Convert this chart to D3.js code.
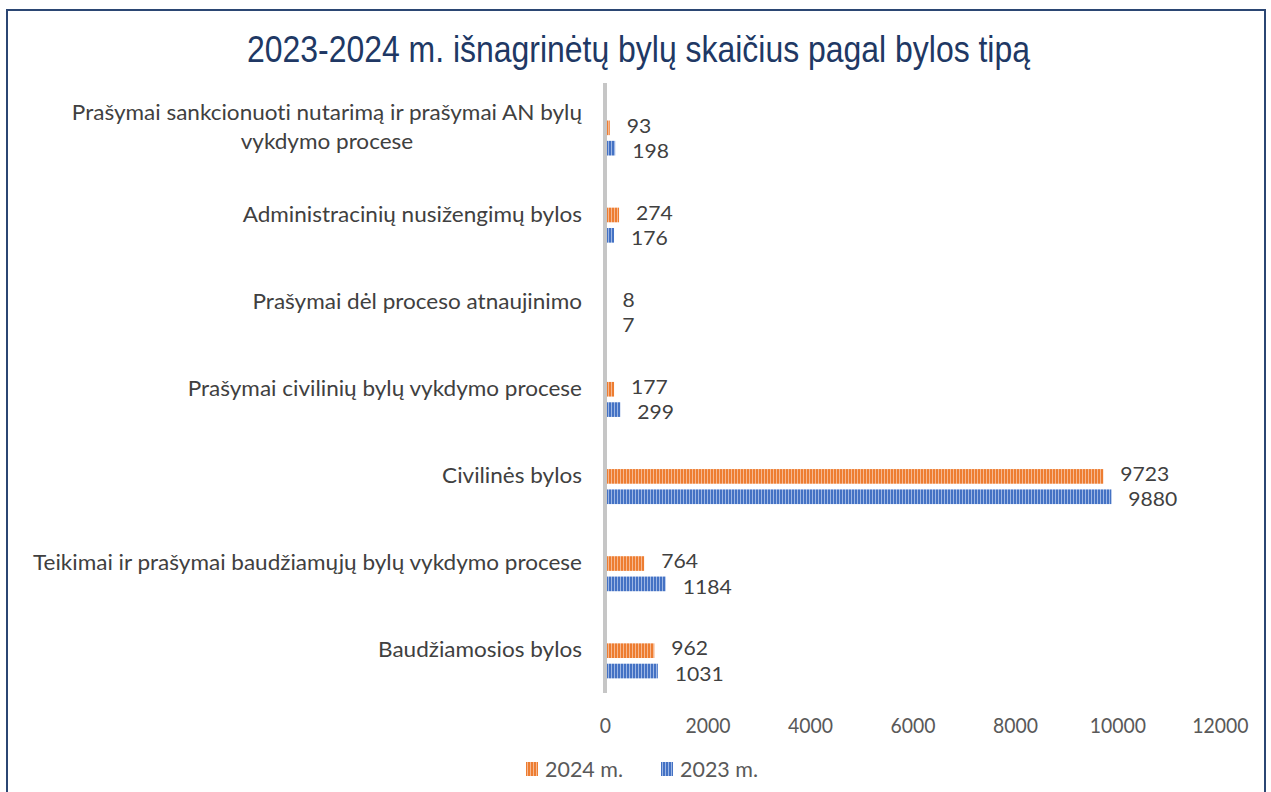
<!DOCTYPE html>
<html><head><meta charset="utf-8">
<script src="https://cdn.jsdelivr.net/npm/d3@7"></script>
<style>html,body{margin:0;padding:0;background:#fff;} svg{display:block} text{font-variant-ligatures:none;font-feature-settings:"liga" 0,"clig" 0;}</style>
</head><body>
<svg id="chart" width="1271" height="792"></svg>
<script>
const title = "2023-2024 m. išnagrinėtų bylų skaičius pagal bylos tipą";
const categories = [
  "Prašymai sankcionuoti nutarimą ir prašymai AN bylų vykdymo procese",
  "Administracinių nusižengimų bylos",
  "Prašymai dėl proceso atnaujinimo",
  "Prašymai civilinių bylų vykdymo procese",
  "Civilinės bylos",
  "Teikimai ir prašymai baudžiamųjų bylų vykdymo procese",
  "Baudžiamosios bylos"
];
const seriesNames = ["2024 m.", "2023 m."];
const values2024 = [93, 274, 8, 177, 9723, 764, 962];
const values2023 = [198, 176, 7, 299, 9880, 1184, 1031];
const xTicks = [0, 2000, 4000, 6000, 8000, 10000, 12000];
const xMax = 12000;

const seriesValues = [values2024, values2023];
const colors = ["#ED7D31", "#4472C4"];
const lightColors = ["#F6B891", "#9DB6E4"];
const FONT = "Lato, 'Open Sans', sans-serif";

const svg = d3.select("#chart");
const defs = svg.append("defs");
seriesNames.forEach((s, i) => {
  const p = defs.append("pattern").attr("id", "pat" + i)
    .attr("patternUnits", "userSpaceOnUse").attr("width", 3).attr("height", 3);
  p.append("rect").attr("width", 3).attr("height", 3).attr("fill", colors[i]);
  p.append("rect").attr("x", 2).attr("width", 1).attr("height", 3).attr("fill", lightColors[i]);
});

// border
svg.append("rect").attr("x", 7).attr("y", 10).attr("width", 1258).attr("height", 800)
  .attr("fill", "#fff").attr("stroke", "#2B4673").attr("stroke-width", 2);

const x = d3.scaleLinear().domain([0, xMax]).range([605, 1220]);
const y = d3.scaleBand().domain(categories).range([83, 693]).padding(0);
const yInner = d3.scaleBand().domain(seriesNames).range([37.5, 72.5]).paddingInner(0.28);

function measure(txt, size, family, weight) {
  const t = svg.append("text").attr("font-family", family).attr("font-size", size)
    .attr("font-weight", weight || "normal").text(txt);
  const w = t.node().getComputedTextLength();
  t.remove();
  return w;
}
function squeeze(sel, ratio) {
  sel.each(function () {
    const w = this.getComputedTextLength();
    d3.select(this).attr("textLength", w * ratio).attr("lengthAdjust", "spacingAndGlyphs");
  });
}

// title
const titleSize = 36;
const titleRatio = 783 / measure(title, titleSize, "'Liberation Sans', Arial, sans-serif");
svg.append("text").attr("x", 638.5).attr("y", 62).attr("text-anchor", "middle")
  .attr("font-family", "'Liberation Sans', Arial, sans-serif").attr("font-size", titleSize)
  .attr("fill", "#203864").text(title).call(squeeze, titleRatio);

// bars
const gBars = svg.append("g");
categories.forEach((c, ci) => {
  seriesNames.forEach((s, si) => {
    const v = seriesValues[si][ci];
    gBars.append("rect")
      .attr("x", x(0))
      .attr("y", y(c) + yInner(s))
      .attr("width", x(v) - x(0))
      .attr("height", yInner.bandwidth())
      .attr("fill", "url(#pat" + si + ")");
  });
});

// value labels
const fs = 22;
const vfs = 20;
const valRatio = 49 / measure("9880", vfs, FONT);
const gVals = svg.append("g");
categories.forEach((c, ci) => {
  seriesNames.forEach((s, si) => {
    const v = seriesValues[si][ci];
    gVals.append("text")
      .attr("x", x(v) + 17)
      .attr("y", y(c) + yInner(s) + yInner.bandwidth() / 2 + (si === 0 ? -2.5 : 2.5))
      .attr("dy", "0.36em")
      .attr("font-family", FONT).attr("font-size", vfs).attr("fill", "#404040")
      .text(v);
  });
});
gVals.selectAll("text").call(squeeze, valRatio);

// axis line (category axis)
svg.append("line").attr("x1", x(0)).attr("x2", x(0)).attr("y1", y.range()[0]).attr("y2", y.range()[1])
  .attr("stroke", "#C6C6C6").attr("stroke-width", 4);

// category labels
const catRatio = 549 / measure(categories[5], fs, FONT);
const maxW = 565 / catRatio;
const gCat = svg.append("g");
categories.forEach(c => {
  const words = c.split(" ");
  const lines = [];
  let cur = "";
  words.forEach(w => {
    const test = cur ? cur + " " + w : w;
    if (measure(test, fs, FONT) > maxW && cur) { lines.push(cur); cur = w; } else cur = test;
  });
  lines.push(cur);
  const lh = 29;
  const cy = y(c) + y.bandwidth() / 2;
  const widths = lines.map(l => measure(l, fs, FONT) * catRatio);
  const mw = d3.max(widths);
  lines.forEach((l, li) => {
    gCat.append("text")
      .attr("x", lines.length > 1 ? 582 - mw / 2 : 582)
      .attr("text-anchor", lines.length > 1 ? "middle" : "end")
      .attr("y", cy + (li - (lines.length - 1) / 2) * lh)
      .attr("dy", "0.36em")
      .attr("font-family", FONT).attr("font-size", fs).attr("fill", "#404040")
      .text(l);
  });
});
gCat.selectAll("text").call(squeeze, catRatio);

// x axis tick labels
const tickRatio = 45 / measure("2000", fs, FONT);
const xAxis = d3.axisBottom(x).tickValues(xTicks).tickSize(0).tickPadding(0).tickFormat(d3.format("d"));
const gx = svg.append("g").attr("transform", "translate(0,717)").call(xAxis);
gx.select(".domain").remove();
gx.selectAll("text").attr("font-family", FONT).attr("font-size", fs).attr("fill", "#595959")
  .attr("y", 8).attr("dy", "0.36em").call(squeeze, tickRatio);

// legend
const legRatio = 78 / measure("2024 m.", fs, FONT);
const legX = [526, 661];
const gLeg = svg.append("g");
seriesNames.forEach((s, i) => {
  gLeg.append("rect").attr("x", legX[i]).attr("y", 762).attr("width", 12).attr("height", 14)
    .attr("fill", "url(#pat" + i + ")");
  gLeg.append("text").attr("x", legX[i] + 19).attr("y", 769).attr("dy", "0.36em")
    .attr("font-family", FONT).attr("font-size", fs).attr("fill", "#595959").text(s);
});
gLeg.selectAll("text").call(squeeze, legRatio);
</script>
</body></html>
